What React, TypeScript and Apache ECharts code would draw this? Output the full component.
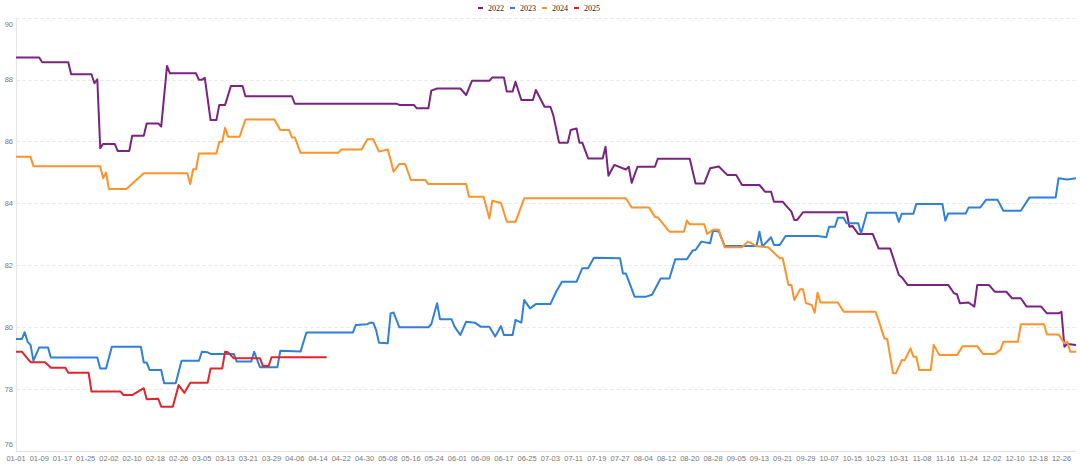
import React, { useEffect, useRef } from "react";
import * as echarts from "echarts";

// Daily categories (leap-year calendar, 366 days)
const monthLengths = [31, 29, 31, 30, 31, 30, 31, 31, 30, 31, 30, 31];
const categories: string[] = [];
monthLengths.forEach((len, m) => {
  for (let d = 1; d <= len; d++) {
    categories.push(String(m + 1).padStart(2, "0") + "-" + String(d).padStart(2, "0"));
  }
});

const seriesNames = ["2022", "2023", "2024", "2025"];
const yTicks = [76, 78, 80, 82, 84, 86, 88, 90];

// Keypoints: [date, value]
const data2022: [string, number][] = [
  ["01-01", 88.72], ["01-09", 88.72], ["01-10", 88.57], ["01-19", 88.57], ["01-20", 88.18],
  ["01-27", 88.18], ["01-28", 87.89], ["01-29", 88.02], ["01-30", 85.79], ["01-31", 85.93],
  ["02-04", 85.93], ["02-05", 85.7], ["02-09", 85.7], ["02-10", 86.19], ["02-14", 86.19],
  ["02-15", 86.59], ["02-19", 86.59], ["02-20", 86.49], ["02-22", 88.45], ["02-23", 88.21],
  ["03-03", 88.21], ["03-04", 88.0], ["03-05", 88.0], ["03-06", 88.07], ["03-08", 86.7],
  ["03-10", 86.7], ["03-11", 87.19], ["03-13", 87.19], ["03-15", 87.8], ["03-19", 87.8],
  ["03-20", 87.47], ["04-05", 87.47], ["04-06", 87.23], ["05-11", 87.23], ["05-12", 87.19],
  ["05-17", 87.19], ["05-18", 87.08], ["05-22", 87.08], ["05-23", 87.65], ["05-25", 87.72],
  ["06-02", 87.72], ["06-04", 87.51], ["06-06", 87.97], ["06-12", 87.97], ["06-13", 88.08],
  ["06-17", 88.08], ["06-18", 87.62], ["06-20", 87.62], ["06-21", 87.94], ["06-23", 87.35],
  ["06-27", 87.35], ["06-28", 87.67], ["07-01", 87.13], ["07-03", 87.13], ["07-04", 86.86],
  ["07-06", 85.97], ["07-09", 85.97], ["07-10", 86.38], ["07-12", 86.43], ["07-13", 85.97],
  ["07-14", 85.97], ["07-16", 85.46], ["07-21", 85.46], ["07-22", 85.84], ["07-23", 84.9],
  ["07-25", 85.25], ["07-29", 85.1], ["07-30", 85.19], ["07-31", 84.67], ["08-02", 85.19],
  ["08-08", 85.19], ["08-09", 85.45], ["08-20", 85.45], ["08-22", 84.65], ["08-25", 84.65],
  ["08-27", 85.14], ["08-30", 85.2], ["09-02", 84.92], ["09-05", 84.92], ["09-07", 84.6],
  ["09-13", 84.6], ["09-15", 84.38], ["09-17", 84.38], ["09-18", 84.06], ["09-21", 84.06],
  ["09-22", 83.95], ["09-24", 83.74], ["09-25", 83.47], ["09-26", 83.47], ["09-28", 83.72],
  ["10-13", 83.72], ["10-14", 83.25], ["10-15", 83.28], ["10-17", 83.02], ["10-22", 83.02],
  ["10-24", 82.55], ["10-28", 82.55], ["10-31", 81.69], ["11-01", 81.62], ["11-03", 81.37],
  ["11-17", 81.37], ["11-19", 81.1], ["11-20", 81.07], ["11-21", 80.78], ["11-24", 80.8],
  ["11-26", 80.67], ["11-27", 81.37], ["12-01", 81.37], ["12-03", 81.15], ["12-07", 81.15],
  ["12-09", 80.94], ["12-12", 80.94], ["12-14", 80.67], ["12-19", 80.67], ["12-21", 80.45],
  ["12-25", 80.45], ["12-26", 80.5], ["12-27", 79.37], ["12-28", 79.46], ["12-31", 79.43],
];

const data2023: [string, number][] = [
  ["01-01", 79.62], ["01-03", 79.62], ["01-04", 79.84], ["01-05", 79.53], ["01-06", 79.43],
  ["01-07", 78.92], ["01-09", 79.35], ["01-12", 79.35], ["01-13", 79.02], ["01-29", 79.02],
  ["01-30", 78.67], ["02-01", 78.67], ["02-03", 79.37], ["02-13", 79.37], ["02-14", 78.86],
  ["02-15", 78.86], ["02-16", 78.62], ["02-20", 78.62], ["02-21", 78.19], ["02-25", 78.19],
  ["02-27", 78.92], ["03-04", 78.92], ["03-05", 79.21], ["03-07", 79.19], ["03-08", 79.14],
  ["03-16", 79.14], ["03-17", 78.89], ["03-22", 78.89], ["03-23", 79.21], ["03-25", 78.71],
  ["03-31", 78.71], ["04-01", 79.24], ["04-08", 79.22], ["04-10", 79.83], ["04-26", 79.83],
  ["04-27", 80.07], ["05-01", 80.1], ["05-02", 80.15], ["05-03", 80.15], ["05-04", 79.91],
  ["05-05", 79.5], ["05-08", 79.48], ["05-09", 80.45], ["05-10", 80.48], ["05-12", 80.0],
  ["05-22", 80.0], ["05-23", 80.1], ["05-25", 80.78], ["05-26", 80.26], ["05-30", 80.26],
  ["05-31", 80.02], ["06-02", 79.75], ["06-04", 80.18], ["06-07", 80.15], ["06-09", 80.02],
  ["06-12", 80.02], ["06-14", 79.7], ["06-16", 80.04], ["06-17", 79.75], ["06-20", 79.75],
  ["06-21", 80.24], ["06-23", 80.15], ["06-24", 80.88], ["06-26", 80.61], ["06-28", 80.75],
  ["07-03", 80.75], ["07-05", 81.15], ["07-07", 81.47], ["07-12", 81.47], ["07-14", 81.91],
  ["07-16", 81.91], ["07-18", 82.25], ["07-27", 82.23], ["07-28", 81.74], ["07-29", 81.74],
  ["08-01", 80.99], ["08-05", 80.99], ["08-07", 81.05], ["08-10", 81.58], ["08-13", 81.58],
  ["08-15", 82.2], ["08-19", 82.2], ["08-21", 82.48], ["08-22", 82.5], ["08-24", 82.77],
  ["08-27", 82.72], ["08-28", 83.12], ["08-30", 83.1], ["09-01", 82.63], ["09-12", 82.63],
  ["09-13", 83.09], ["09-14", 82.61], ["09-17", 82.91], ["09-18", 82.66], ["09-20", 82.66],
  ["09-22", 82.95], ["10-03", 82.95], ["10-06", 82.91], ["10-07", 83.25], ["10-09", 83.25],
  ["10-10", 83.54], ["10-12", 83.54], ["10-13", 83.36], ["10-17", 83.36], ["10-18", 83.04],
  ["10-20", 83.7], ["10-30", 83.7], ["10-31", 83.41], ["11-01", 83.67], ["11-05", 83.67],
  ["11-06", 83.99], ["11-15", 83.99], ["11-16", 83.45], ["11-17", 83.68], ["11-23", 83.68],
  ["11-24", 83.87], ["11-28", 83.87], ["11-30", 84.12], ["12-04", 84.12], ["12-06", 83.77],
  ["12-12", 83.77], ["12-15", 84.2], ["12-24", 84.2], ["12-25", 84.82], ["12-28", 84.78],
  ["12-31", 84.82],
];

const data2024: [string, number][] = [
  ["01-01", 85.51], ["01-06", 85.51], ["01-07", 85.21], ["01-30", 85.21], ["01-31", 84.82],
  ["02-01", 85.0], ["02-02", 84.47], ["02-08", 84.47], ["02-14", 84.98], ["02-29", 84.98],
  ["03-01", 84.63], ["03-02", 85.11], ["03-03", 85.11], ["03-04", 85.62], ["03-10", 85.62],
  ["03-11", 86.0], ["03-12", 86.0], ["03-13", 86.45], ["03-14", 86.16], ["03-18", 86.16],
  ["03-20", 86.72], ["03-30", 86.72], ["04-01", 86.38], ["04-04", 86.38], ["04-05", 86.14],
  ["04-06", 86.14], ["04-08", 85.64], ["04-21", 85.64], ["04-22", 85.75], ["04-29", 85.75],
  ["05-01", 86.08], ["05-03", 86.08], ["05-05", 85.68], ["05-08", 85.75], ["05-09", 85.41],
  ["05-10", 85.03], ["05-12", 85.28], ["05-14", 85.28], ["05-16", 84.76], ["05-21", 84.76],
  ["05-22", 84.63], ["06-04", 84.63], ["06-05", 84.22], ["06-10", 84.22], ["06-12", 83.52],
  ["06-13", 84.09], ["06-16", 84.02], ["06-18", 83.41], ["06-21", 83.41], ["06-24", 84.17],
  ["07-29", 84.17], ["07-31", 83.87], ["08-06", 83.87], ["08-08", 83.57], ["08-09", 83.55],
  ["08-13", 83.09], ["08-18", 83.09], ["08-19", 83.45], ["08-20", 83.33], ["08-25", 83.33],
  ["08-26", 83.02], ["08-28", 83.15], ["08-30", 83.15], ["09-01", 82.59], ["09-07", 82.59],
  ["09-09", 82.77], ["09-10", 82.73], ["09-12", 82.62], ["09-16", 82.59], ["09-17", 82.5],
  ["09-20", 82.23], ["09-21", 82.23], ["09-23", 81.37], ["09-24", 81.37], ["09-25", 80.88],
  ["09-27", 81.23], ["09-28", 81.23], ["09-29", 80.78], ["10-01", 80.72], ["10-02", 80.47],
  ["10-03", 81.12], ["10-04", 80.8], ["10-10", 80.8], ["10-12", 80.5], ["10-23", 80.5],
  ["10-24", 80.24], ["10-26", 79.64], ["10-27", 79.62], ["10-29", 78.51], ["10-30", 78.51],
  ["11-01", 78.94], ["11-02", 78.93], ["11-04", 79.32], ["11-05", 79.05], ["11-06", 79.05],
  ["11-07", 78.62], ["11-11", 78.62], ["11-12", 79.43], ["11-14", 79.1], ["11-20", 79.1],
  ["11-22", 79.39], ["11-27", 79.39], ["11-29", 79.14], ["12-03", 79.14], ["12-05", 79.27],
  ["12-06", 79.53], ["12-11", 79.53], ["12-12", 80.1], ["12-20", 80.1], ["12-21", 79.77],
  ["12-25", 79.77], ["12-27", 79.48], ["12-28", 79.53], ["12-29", 79.21], ["12-31", 79.21],
];

const data2025: [string, number][] = [
  ["01-01", 79.21], ["01-03", 79.21], ["01-06", 78.87], ["01-11", 78.87], ["01-13", 78.69],
  ["01-18", 78.69], ["01-19", 78.53], ["01-26", 78.53], ["01-27", 77.92], ["02-06", 77.92],
  ["02-07", 77.81], ["02-10", 77.81], ["02-12", 77.92], ["02-14", 78.03], ["02-15", 77.67],
  ["02-19", 77.69], ["02-20", 77.43], ["02-24", 77.43], ["02-26", 78.13], ["02-28", 77.88],
  ["03-01", 78.21], ["03-07", 78.21], ["03-08", 78.67], ["03-12", 78.67], ["03-13", 79.21],
  ["03-14", 79.19], ["03-16", 79.0], ["03-25", 79.0], ["03-26", 78.75], ["03-28", 78.75],
  ["03-29", 79.03], ["04-17", 79.03],
];

const seriesData = [data2022, data2023, data2024, data2025];
const colors = ["#7b2382", "#2f80d8", "#ff9229", "#e0262b"];

export default function App() {
  const ref = useRef<HTMLDivElement>(null);
  useEffect(() => {
    if (!ref.current) return;
    const chart = echarts.init(ref.current, undefined, { renderer: "svg" });
    const yMin = yTicks[0];
    const yMax = yTicks[yTicks.length - 1];
    chart.setOption({
      animation: false,
      backgroundColor: "#ffffff",
      color: colors,
      legend: {
        data: seriesNames,
        top: -1,
        left: 472,
        itemWidth: 5,
        itemHeight: 2,
        itemGap: 5,
        textStyle: { fontFamily: "Liberation Serif", fontSize: 8, color: "#222" },
      },
      grid: { left: 16, right: 4, top: 18, bottom: 18, containLabel: false },
      xAxis: {
        type: "category",
        data: categories,
        boundaryGap: false,
        axisLine: { lineStyle: { color: "#e0e0e0" } },
        axisTick: { show: false },
        axisLabel: {
          interval: 7,
          fontSize: 7.5,
          color: "#777",
          fontFamily: "Liberation Sans",
          margin: 3,
        },
        splitLine: { show: false },
      },
      yAxis: {
        type: "value",
        min: yMin,
        max: yMax,
        interval: 2,
        axisLine: { show: true, lineStyle: { color: "#e6e6e6" } },
        axisTick: { show: false },
        axisLabel: {
          fontSize: 7.5,
          color: "#777",
          fontFamily: "Liberation Sans",
          margin: 3,
          formatter: (v: number) =>
            v === yMax ? "{top|" + v + "}" : v === yMin ? "{bot|" + v + "}" : String(v),
          rich: {
            top: { padding: [13, 0, 0, 0], fontSize: 7.5, color: "#777", fontFamily: "Liberation Sans" },
            bot: { padding: [0, 0, 13, 0], fontSize: 7.5, color: "#777", fontFamily: "Liberation Sans" },
          },
        },
        splitLine: { lineStyle: { type: "dashed", color: "#ececec" } },
      },
      series: seriesNames.map((name, i) => ({
        name,
        type: "line",
        data: seriesData[i],
        symbol: "none",
        smooth: false,
        lineStyle: { width: 2, color: colors[i], join: "round" },
        itemStyle: { color: colors[i] },
      })),
    });
    return () => chart.dispose();
  }, []);
  return (
    <div
      ref={ref}
      style={{ position: "fixed", left: 0, top: 0, width: 1080, height: 469 }}
    />
  );
}
